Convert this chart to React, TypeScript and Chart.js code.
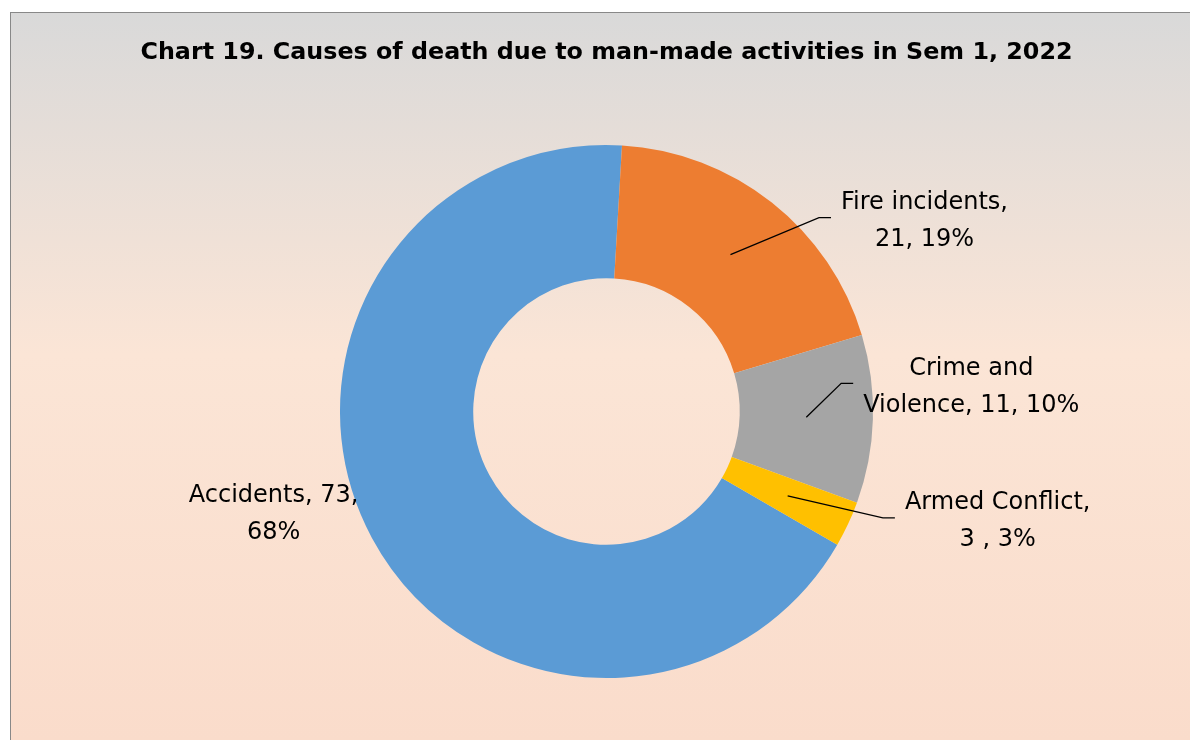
import React, { useEffect, useRef } from "react";
import { Chart, registerables } from "chart.js";

Chart.register(...registerables);

const titleText = "Chart 19. Causes of death due to man-made activities in Sem 1, 2022";
const categories = ["Accidents", "Fire incidents", "Crime and Violence", "Armed Conflict"];
const deaths = [73, 21, 11, 3];
const sliceColors = ["#5B9BD5", "#ED7D31", "#A5A5A5", "#FFC000"];
const labelLines = [
  ["Accidents, 73,", "68%"],
  ["Fire incidents,", "21, 19%"],
  ["Crime and", "Violence, 11, 10%"],
  ["Armed Conflict,", "3 , 3%"],
];
// label block offset from the slice centre point (px)
const labelOffsets = [
  [-157, 8],
  [194, -33.5],
  [165, -30.5],
  [210, 25.5],
];
const hasLeader = [false, true, true, true];

const LABEL_FONT = "24px 'DejaVu Sans'";
const LINE_H = 37;

const labelPlugin = {
  id: "sliceLabels",
  afterDatasetsDraw(chart: any) {
    const ctx = chart.ctx;
    const meta = chart.getDatasetMeta(0);
    ctx.save();
    ctx.font = LABEL_FONT;
    ctx.fillStyle = "#000";
    ctx.strokeStyle = "#000";
    ctx.lineWidth = 1.3;
    ctx.textAlign = "center";
    ctx.textBaseline = "middle";
    meta.data.forEach((arc: any, i: number) => {
      const p = arc.getCenterPoint();
      const lx = p.x + labelOffsets[i][0];
      const ly = p.y + labelOffsets[i][1];
      const lines = labelLines[i];
      const maxW = Math.max(...lines.map((l) => ctx.measureText(l).width));
      if (hasLeader[i]) {
        const ex = lx - maxW / 2 - 10;
        const ey = ly - 3.5;
        ctx.beginPath();
        ctx.moveTo(p.x, p.y);
        ctx.lineTo(ex - 12, ey);
        ctx.lineTo(ex, ey);
        ctx.stroke();
      }
      lines.forEach((line, k) => {
        ctx.fillText(line, lx, ly + (k - (lines.length - 1) / 2) * LINE_H);
      });
    });
    ctx.restore();
  },
};

export default function App() {
  const ref = useRef<HTMLCanvasElement>(null);
  useEffect(() => {
    if (!ref.current) return;
    const chart = new Chart(ref.current, {
      type: "doughnut",
      data: {
        labels: categories,
        datasets: [
          {
            data: deaths,
            backgroundColor: sliceColors,
            borderWidth: 0,
            hoverOffset: 0,
            offset: 0,
          },
        ],
      },
      options: {
        responsive: false,
        maintainAspectRatio: false,
        animation: false,
        devicePixelRatio: 1,
        events: [],
        rotation: 120,
        cutout: "50%",
        layout: { padding: { left: 12, right: 0, top: 0, bottom: 62 } },
        plugins: {
          legend: { display: false },
          tooltip: { enabled: false },
          title: {
            display: true,
            text: titleText,
            color: "#000",
            font: { family: "'DejaVu Sans'", size: 23.8, weight: "bold" },
            padding: { top: 25.2, bottom: 78.2 },
          },
        },
      },
      plugins: [labelPlugin],
    } as any);
    return () => chart.destroy();
  }, []);

  return (
    <div
      style={{
        position: "absolute",
        left: 10,
        top: 12,
        width: 1180,
        height: 728,
        boxSizing: "border-box",
        borderTop: "1px solid #888",
        borderLeft: "1px solid #888",
        background: "linear-gradient(180deg, #d9d9d9 0%, #fbe5d6 47%, #fadccb 100%)",
        overflow: "hidden",
      }}
    >
      <canvas ref={ref} width={1179} height={727} style={{ display: "block", width: 1179, height: 727 }} />
    </div>
  );
}
